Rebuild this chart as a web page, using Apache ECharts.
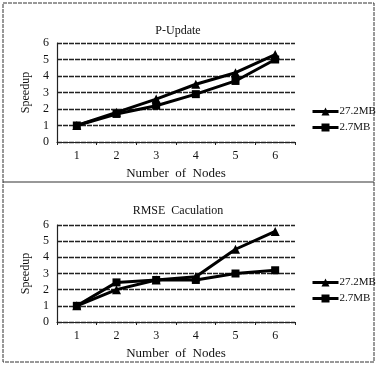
<!DOCTYPE html>
<html>
<head>
<meta charset="utf-8">
<script src="https://cdn.jsdelivr.net/npm/echarts@6/dist/echarts.min.js"></script>
<style>
html,body{margin:0;padding:0;background:#fff;}
#main{width:377px;height:365px;}
</style>
</head>
<body>
<div id="main"></div>
<script>
// data
var nodes = ['1', '2', '3', '4', '5', '6'];
var seriesNames = ['27.2MB', '2.7MB'];
var pUpdateBig = [1, 1.8, 2.6, 3.5, 4.2, 5.3];
var pUpdateSmall = [1, 1.7, 2.2, 2.9, 3.7, 5.0];
var rmseBig = [1, 2.0, 2.6, 2.8, 4.5, 5.6];
var rmseSmall = [1, 2.45, 2.6, 2.6, 3.0, 3.2];
var titles = ['P-Update', 'RMSE  Caculation'];

var font = 'Liberation Serif';
var myChart = echarts.init(document.getElementById('main'));

function xAx(i){
    return {
        type:'category', gridIndex:i, data:nodes,
        name:'Number  of  Nodes', nameLocation:'middle', nameGap:25,
        nameTextStyle:{color:'#111', fontFamily:font, fontSize:13},
        axisLine:{lineStyle:{color:'#222', width:1.2}},
        axisTick:{show:true, length:3, inside:false, lineStyle:{color:'#222'}},
        axisLabel:{color:'#111', fontFamily:font, fontSize:12, margin:8}
    };
}
function yAx(i){
    return {
        type:'value', gridIndex:i, min:0, max:6, interval:1,
        name:'Speedup', nameLocation:'middle', nameGap:24,
        nameTextStyle:{color:'#111', fontFamily:font, fontSize:12},
        axisLine:{show:true, lineStyle:{color:'#222', width:1.2}},
        axisTick:{show:true, length:3, inside:true, lineStyle:{color:'#222'}},
        axisLabel:{color:'#111', fontFamily:font, fontSize:12, margin:8},
        splitLine:{show:true, lineStyle:{color:'#222', width:1.4, type:[5,1]}}
    };
}
function line(name, data, i, sym){
    return {
        name:name, type:'line', xAxisIndex:i, yAxisIndex:i, data:data,
        symbol:sym, symbolSize:sym === 'rect' ? 8 : 9,
        itemStyle:{color:'#000'}, lineStyle:{color:'#000', width:3},
        animation:false
    };
}
function leg(top){
    return {
        data:seriesNames,
        left:306, top:top, orient:'vertical', itemGap:5,
        itemWidth:26, itemHeight:10,
        lineStyle:{width:3, color:'#000'},
        textStyle:{color:'#111', fontFamily:font, fontSize:11, padding:[0,0,0,-4]}
    };
}

var options = {
    backgroundColor:'#fff',
    title:[
        {text:titles[0], left:173, top:20, textAlign:'center', textStyle:{fontFamily:font, fontSize:12, fontWeight:'normal', color:'#111'}},
        {text:titles[1], left:173, top:200, textAlign:'center', textStyle:{fontFamily:font, fontSize:12, fontWeight:'normal', color:'#111'}}
    ],
    grid:[
        {left:57, right:82, top:43, height:99},
        {left:57, right:82, top:225, height:97}
    ],
    xAxis:[xAx(0), xAx(1)],
    yAxis:[yAx(0), yAx(1)],
    legend:[leg(101), leg(272)],
    series:[
        line(seriesNames[0], pUpdateBig, 0, 'triangle'),
        line(seriesNames[1], pUpdateSmall, 0, 'rect'),
        line(seriesNames[0], rmseBig, 1, 'triangle'),
        line(seriesNames[1], rmseSmall, 1, 'rect')
    ],
    graphic:[
        {type:'rect', shape:{x:3, y:3, width:371, height:359}, style:{fill:null, stroke:'#333', lineWidth:1, lineDash:[4,1]}, silent:true},
        {type:'line', shape:{x1:3, y1:182, x2:374, y2:182}, style:{stroke:'#333', lineWidth:1.2}, silent:true}
    ]
};
myChart.setOption(options);
</script>
</body>
</html>
